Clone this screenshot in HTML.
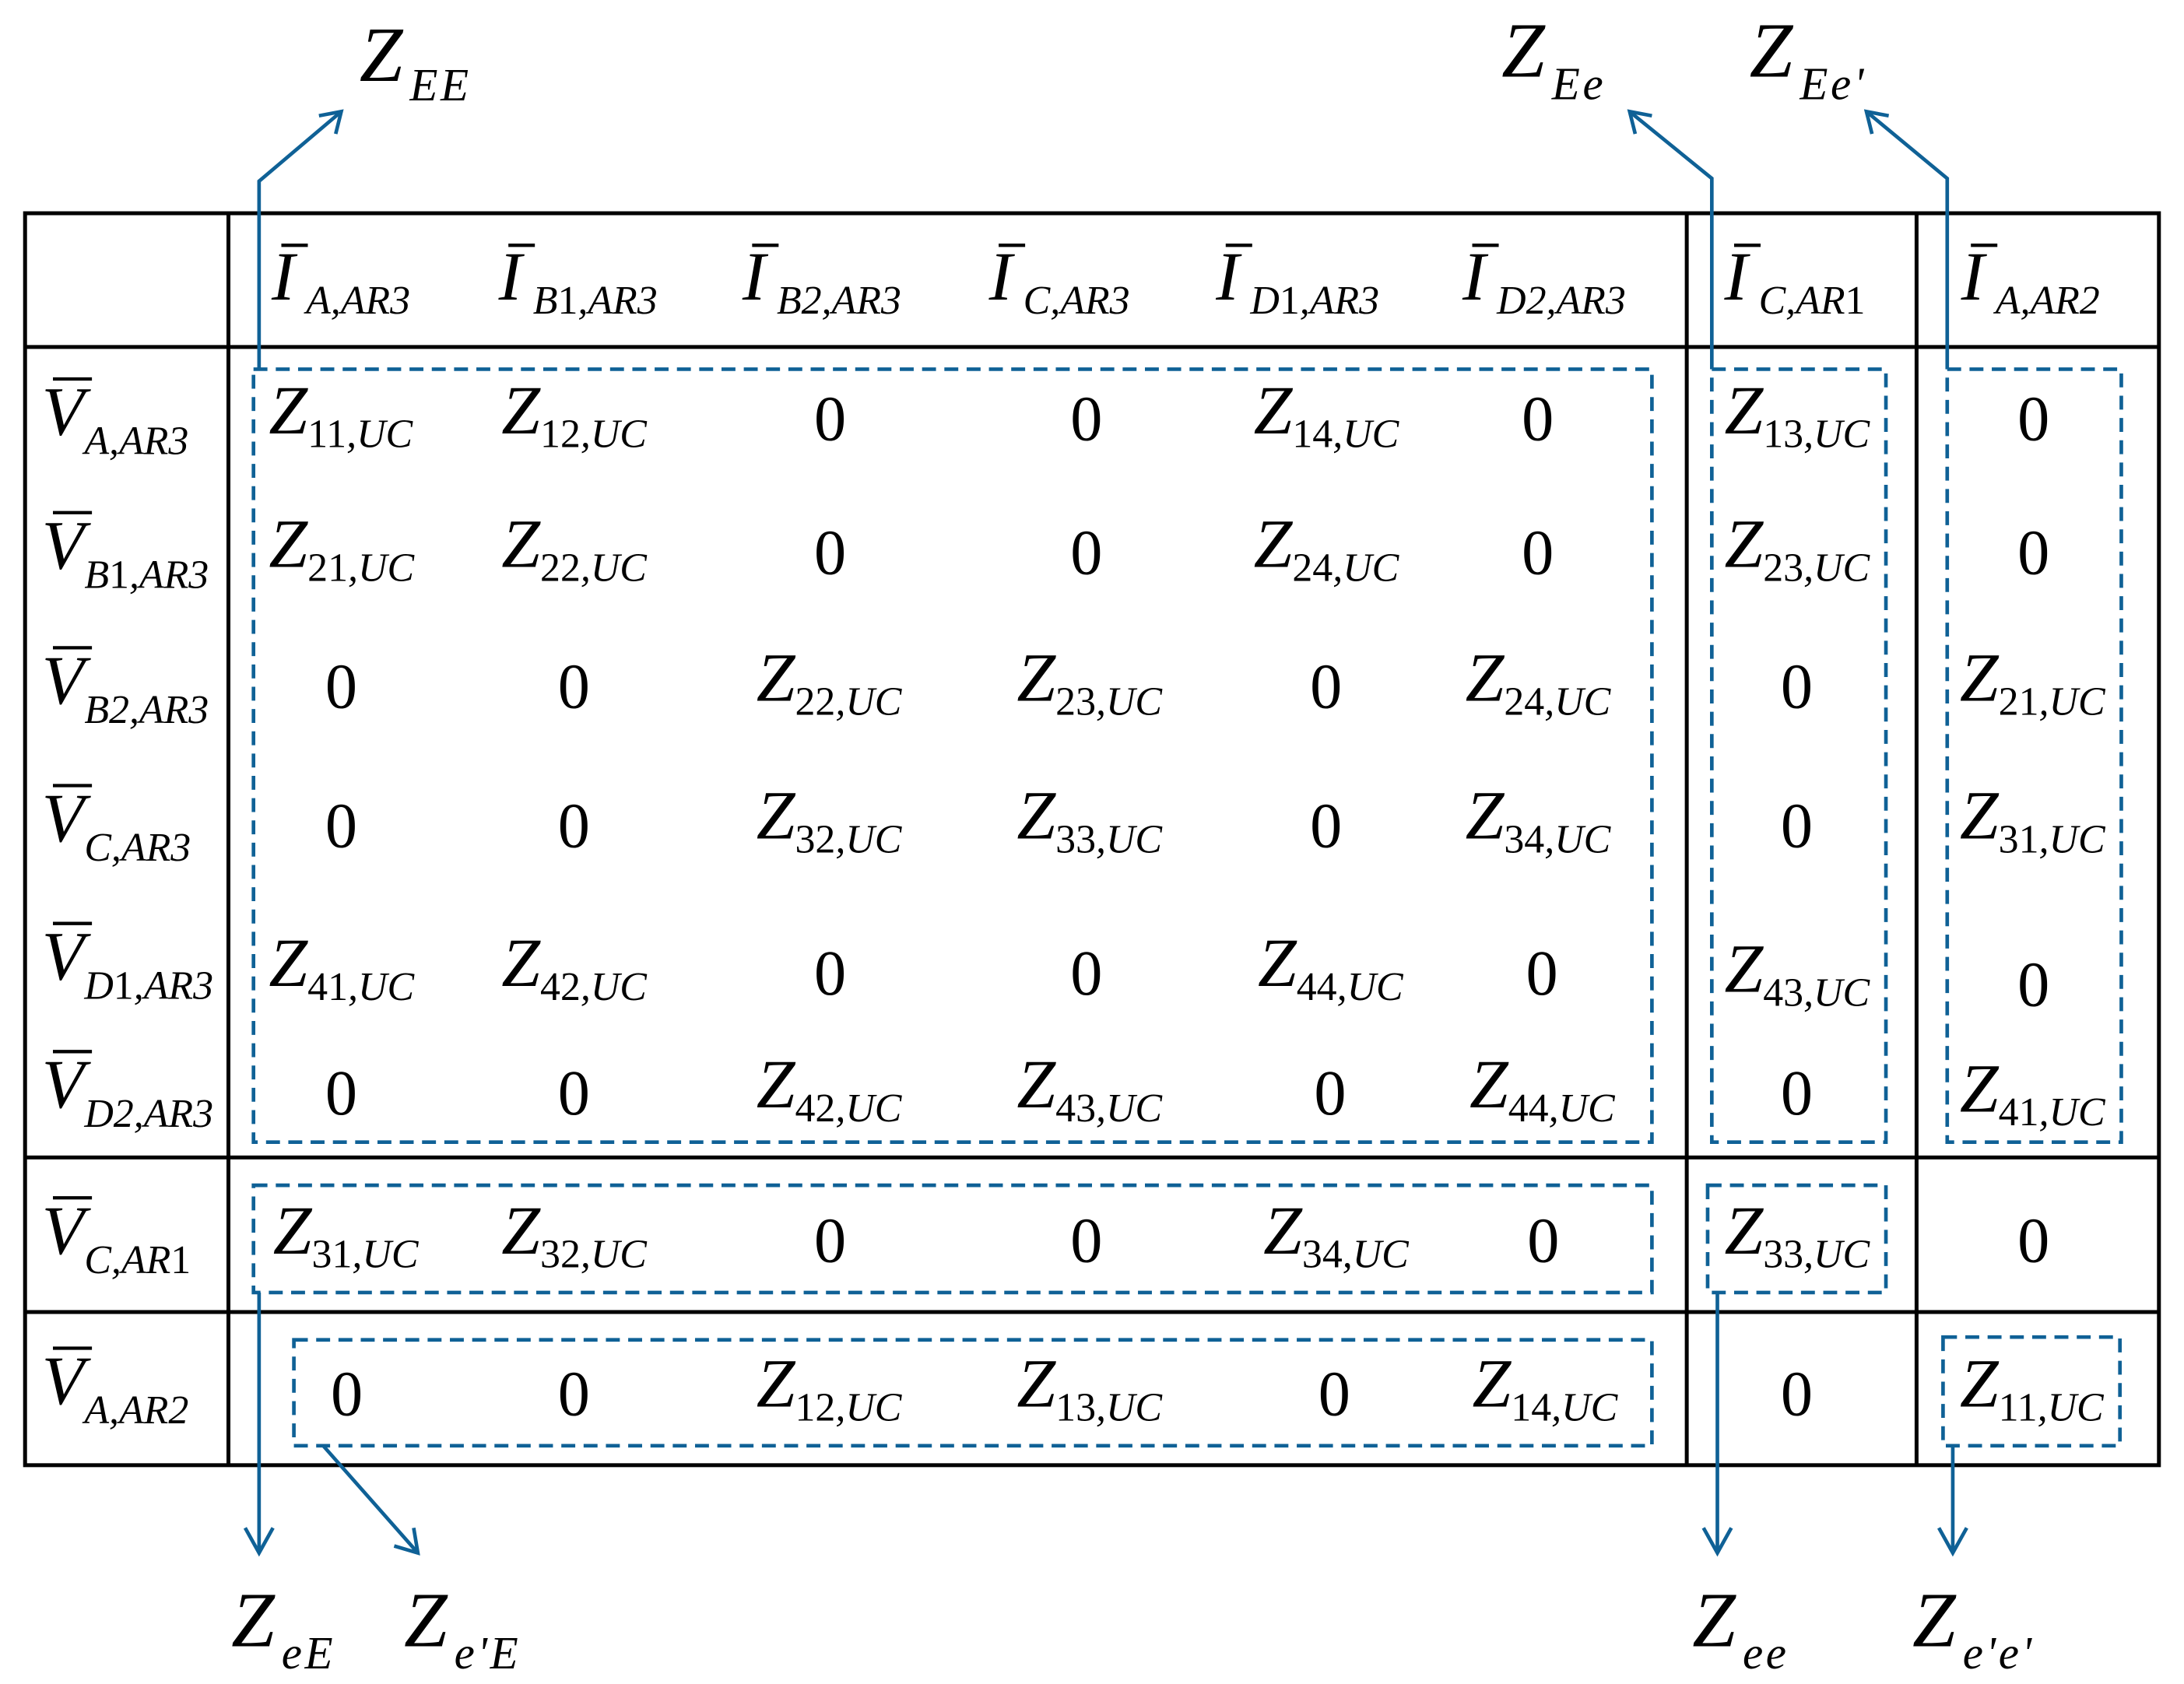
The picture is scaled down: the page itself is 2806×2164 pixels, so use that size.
<!DOCTYPE html>
<html><head><meta charset="utf-8"><style>
html,body{margin:0;padding:0;background:#fff}
svg{display:block}
text{font-family:"Liberation Serif",serif;fill:#000}
.m{font-size:50px;font-style:italic}
.z{font-size:46px;text-anchor:middle}
.s{font-size:29px;font-style:normal}
.si{font-size:29px;font-style:italic}
.L{font-size:56px;font-style:italic}
.Ls{font-size:33px;font-style:italic;letter-spacing:2px}
.b{stroke:#0f6196;stroke-width:2.6;fill:none;stroke-dasharray:10 6}
.a{stroke:#0f6196;stroke-width:2.6;fill:none}
.t{stroke:#000;stroke-width:2.8;fill:none}
</style></head><body>
<svg width="2806" height="2164" viewBox="0 0 1568 1209" xmlns="http://www.w3.org/2000/svg">
<rect width="1568" height="1209" fill="#fff"/>
<rect class="t" x="18" y="153" width="1532" height="899"/>
<line class="t" x1="164" y1="153" x2="164" y2="1052"/>
<line class="t" x1="1211" y1="153" x2="1211" y2="1052"/>
<line class="t" x1="1376" y1="153" x2="1376" y2="1052"/>
<line class="t" x1="18" y1="249" x2="1550" y2="249"/>
<line class="t" x1="18" y1="831" x2="1550" y2="831"/>
<line class="t" x1="18" y1="942" x2="1550" y2="942"/>

<rect class="b" x="182" y="265" width="1004" height="555"/>
<rect class="b" x="1229" y="265" width="125" height="555"/>
<rect class="b" x="1398" y="265" width="125" height="555"/>
<rect class="b" x="182" y="851" width="1004" height="77"/>
<rect class="b" x="1226" y="851" width="128" height="77"/>
<rect class="b" x="211" y="962" width="975" height="76"/>
<rect class="b" x="1395" y="960" width="127" height="78"/>

<polyline class="a" points="186,265 186,130 245,80"/>
<polyline class="a" points="229,83 245,80 241,96"/>
<polyline class="a" points="1229,265 1229,128 1170,80"/>
<polyline class="a" points="1186,83 1170,80 1174,96"/>
<polyline class="a" points="1398,265 1398,128 1340,80"/>
<polyline class="a" points="1356,83 1340,80 1344,96"/>
<line class="a" x1="186" y1="928" x2="186" y2="1115"/>
<polyline class="a" points="176,1097 186,1115 196,1097"/>
<line class="a" x1="232" y1="1038" x2="300" y2="1115"/>
<polyline class="a" points="283,1110 300,1115 297,1097"/>
<line class="a" x1="1233" y1="928" x2="1233" y2="1115"/>
<polyline class="a" points="1223,1097 1233,1115 1243,1097"/>
<line class="a" x1="1402" y1="1038" x2="1402" y2="1115"/>
<polyline class="a" points="1392,1097 1402,1115 1412,1097"/>

<text class="L" x="258" y="58">Z<tspan class="Ls" dx="5" dy="14">EE</tspan></text>
<text class="L" x="1078" y="55">Z<tspan class="Ls" dx="5" dy="16">Ee</tspan></text>
<text class="L" x="1256" y="55">Z<tspan class="Ls" dx="5" dy="16">Ee'</tspan></text>
<text class="L" x="166" y="1182">Z<tspan class="Ls" dx="5" dy="16">eE</tspan></text>
<text class="L" x="290" y="1182">Z<tspan class="Ls" dx="5" dy="16">e'E</tspan></text>
<text class="L" x="1215" y="1182">Z<tspan class="Ls" dx="5" dy="16">ee</tspan></text>
<text class="L" x="1373" y="1182">Z<tspan class="Ls" dx="5" dy="16">e'e'</tspan></text>

<g>
<text class="m" x="195" y="215">I<tspan class="si" dx="8" dy="10">A,AR3</tspan></text>
<text class="m" x="358" y="215">I<tspan class="si" dx="8" dy="10">B</tspan><tspan class="s">1</tspan><tspan class="si">,AR3</tspan></text>
<text class="m" x="533" y="215">I<tspan class="si" dx="8" dy="10">B2,AR3</tspan></text>
<text class="m" x="710" y="215">I<tspan class="si" dx="8" dy="10">C,AR3</tspan></text>
<text class="m" x="873" y="215">I<tspan class="si" dx="8" dy="10">D</tspan><tspan class="s">1</tspan><tspan class="si">,AR3</tspan></text>
<text class="m" x="1050" y="215">I<tspan class="si" dx="8" dy="10">D2,AR3</tspan></text>
<text class="m" x="1238" y="215">I<tspan class="si" dx="8" dy="10">C,AR</tspan><tspan class="s">1</tspan></text>
<text class="m" x="1408" y="215">I<tspan class="si" dx="8" dy="10">A,AR2</tspan></text>
</g>
<g stroke="#000" stroke-width="2.4">
<line x1="202" y1="176" x2="221" y2="176"/>
<line x1="365" y1="176" x2="384" y2="176"/>
<line x1="540" y1="176" x2="559" y2="176"/>
<line x1="717" y1="176" x2="736" y2="176"/>
<line x1="880" y1="176" x2="899" y2="176"/>
<line x1="1057" y1="176" x2="1076" y2="176"/>
<line x1="1245" y1="176" x2="1264" y2="176"/>
<line x1="1415" y1="176" x2="1434" y2="176"/>
</g>

<text class="m" x="30" y="312">V<tspan class="si" dy="14">A,AR3</tspan></text>
<text class="m" x="30" y="408">V<tspan class="si" dy="14">B</tspan><tspan class="s">1</tspan><tspan class="si">,AR3</tspan></text>
<text class="m" x="30" y="505">V<tspan class="si" dy="14">B2,AR3</tspan></text>
<text class="m" x="30" y="604">V<tspan class="si" dy="14">C,AR3</tspan></text>
<text class="m" x="30" y="703">V<tspan class="si" dy="14">D</tspan><tspan class="s">1</tspan><tspan class="si">,AR3</tspan></text>
<text class="m" x="30" y="795">V<tspan class="si" dy="14">D2,AR3</tspan></text>
<text class="m" x="30" y="900">V<tspan class="si" dy="14">C,AR</tspan><tspan class="s">1</tspan></text>
<text class="m" x="30" y="1008">V<tspan class="si" dy="14">A,AR2</tspan></text>
<g stroke="#000" stroke-width="2.4">
<line x1="38" y1="272" x2="66" y2="272"/>
<line x1="38" y1="368" x2="66" y2="368"/>
<line x1="38" y1="465" x2="66" y2="465"/>
<line x1="38" y1="564" x2="66" y2="564"/>
<line x1="38" y1="663" x2="66" y2="663"/>
<line x1="38" y1="755" x2="66" y2="755"/>
<line x1="38" y1="860" x2="66" y2="860"/>
<line x1="38" y1="968" x2="66" y2="968"/>
</g>

<text class="m" x="193" y="311">Z<tspan class="s" dy="10">11</tspan><tspan class="si">,UC</tspan></text>
<text class="m" x="360" y="311">Z<tspan class="s" dy="10">12</tspan><tspan class="si">,UC</tspan></text>
<text class="z" x="596" y="316">0</text>
<text class="z" x="780" y="316">0</text>
<text class="m" x="900" y="311">Z<tspan class="s" dy="10">14</tspan><tspan class="si">,UC</tspan></text>
<text class="z" x="1104" y="316">0</text>
<text class="m" x="1238" y="311">Z<tspan class="s" dy="10">13</tspan><tspan class="si">,UC</tspan></text>
<text class="z" x="1460" y="316">0</text>
<text class="m" x="193" y="407">Z<tspan class="s" dy="10">21</tspan><tspan class="si">,UC</tspan></text>
<text class="m" x="360" y="407">Z<tspan class="s" dy="10">22</tspan><tspan class="si">,UC</tspan></text>
<text class="z" x="596" y="412">0</text>
<text class="z" x="780" y="412">0</text>
<text class="m" x="900" y="407">Z<tspan class="s" dy="10">24</tspan><tspan class="si">,UC</tspan></text>
<text class="z" x="1104" y="412">0</text>
<text class="m" x="1238" y="407">Z<tspan class="s" dy="10">23</tspan><tspan class="si">,UC</tspan></text>
<text class="z" x="1460" y="412">0</text>
<text class="z" x="245" y="508">0</text>
<text class="z" x="412" y="508">0</text>
<text class="m" x="543" y="503">Z<tspan class="s" dy="10">22</tspan><tspan class="si">,UC</tspan></text>
<text class="m" x="730" y="503">Z<tspan class="s" dy="10">23</tspan><tspan class="si">,UC</tspan></text>
<text class="z" x="952" y="508">0</text>
<text class="m" x="1052" y="503">Z<tspan class="s" dy="10">24</tspan><tspan class="si">,UC</tspan></text>
<text class="z" x="1290" y="508">0</text>
<text class="m" x="1407" y="503">Z<tspan class="s" dy="10">21</tspan><tspan class="si">,UC</tspan></text>
<text class="z" x="245" y="608">0</text>
<text class="z" x="412" y="608">0</text>
<text class="m" x="543" y="602">Z<tspan class="s" dy="10">32</tspan><tspan class="si">,UC</tspan></text>
<text class="m" x="730" y="602">Z<tspan class="s" dy="10">33</tspan><tspan class="si">,UC</tspan></text>
<text class="z" x="952" y="608">0</text>
<text class="m" x="1052" y="602">Z<tspan class="s" dy="10">34</tspan><tspan class="si">,UC</tspan></text>
<text class="z" x="1290" y="608">0</text>
<text class="m" x="1407" y="602">Z<tspan class="s" dy="10">31</tspan><tspan class="si">,UC</tspan></text>
<text class="m" x="193" y="708">Z<tspan class="s" dy="10">41</tspan><tspan class="si">,UC</tspan></text>
<text class="m" x="360" y="708">Z<tspan class="s" dy="10">42</tspan><tspan class="si">,UC</tspan></text>
<text class="z" x="596" y="714">0</text>
<text class="z" x="780" y="714">0</text>
<text class="m" x="903" y="708">Z<tspan class="s" dy="10">44</tspan><tspan class="si">,UC</tspan></text>
<text class="z" x="1107" y="714">0</text>
<text class="m" x="1238" y="712">Z<tspan class="s" dy="10">43</tspan><tspan class="si">,UC</tspan></text>
<text class="z" x="1460" y="722">0</text>
<text class="z" x="245" y="800">0</text>
<text class="z" x="412" y="800">0</text>
<text class="m" x="543" y="795">Z<tspan class="s" dy="10">42</tspan><tspan class="si">,UC</tspan></text>
<text class="m" x="730" y="795">Z<tspan class="s" dy="10">43</tspan><tspan class="si">,UC</tspan></text>
<text class="z" x="955" y="800">0</text>
<text class="m" x="1055" y="795">Z<tspan class="s" dy="10">44</tspan><tspan class="si">,UC</tspan></text>
<text class="z" x="1290" y="800">0</text>
<text class="m" x="1407" y="798">Z<tspan class="s" dy="10">41</tspan><tspan class="si">,UC</tspan></text>
<text class="m" x="196" y="900">Z<tspan class="s" dy="10">31</tspan><tspan class="si">,UC</tspan></text>
<text class="m" x="360" y="900">Z<tspan class="s" dy="10">32</tspan><tspan class="si">,UC</tspan></text>
<text class="z" x="596" y="906">0</text>
<text class="z" x="780" y="906">0</text>
<text class="m" x="907" y="900">Z<tspan class="s" dy="10">34</tspan><tspan class="si">,UC</tspan></text>
<text class="z" x="1108" y="906">0</text>
<text class="m" x="1238" y="900">Z<tspan class="s" dy="10">33</tspan><tspan class="si">,UC</tspan></text>
<text class="z" x="1460" y="906">0</text>
<text class="z" x="249" y="1016">0</text>
<text class="z" x="412" y="1016">0</text>
<text class="m" x="543" y="1010">Z<tspan class="s" dy="10">12</tspan><tspan class="si">,UC</tspan></text>
<text class="m" x="730" y="1010">Z<tspan class="s" dy="10">13</tspan><tspan class="si">,UC</tspan></text>
<text class="z" x="958" y="1016">0</text>
<text class="m" x="1057" y="1010">Z<tspan class="s" dy="10">14</tspan><tspan class="si">,UC</tspan></text>
<text class="z" x="1290" y="1016">0</text>
<text class="m" x="1407" y="1010">Z<tspan class="s" dy="10">11</tspan><tspan class="si">,UC</tspan></text>
</svg>
</body></html>
